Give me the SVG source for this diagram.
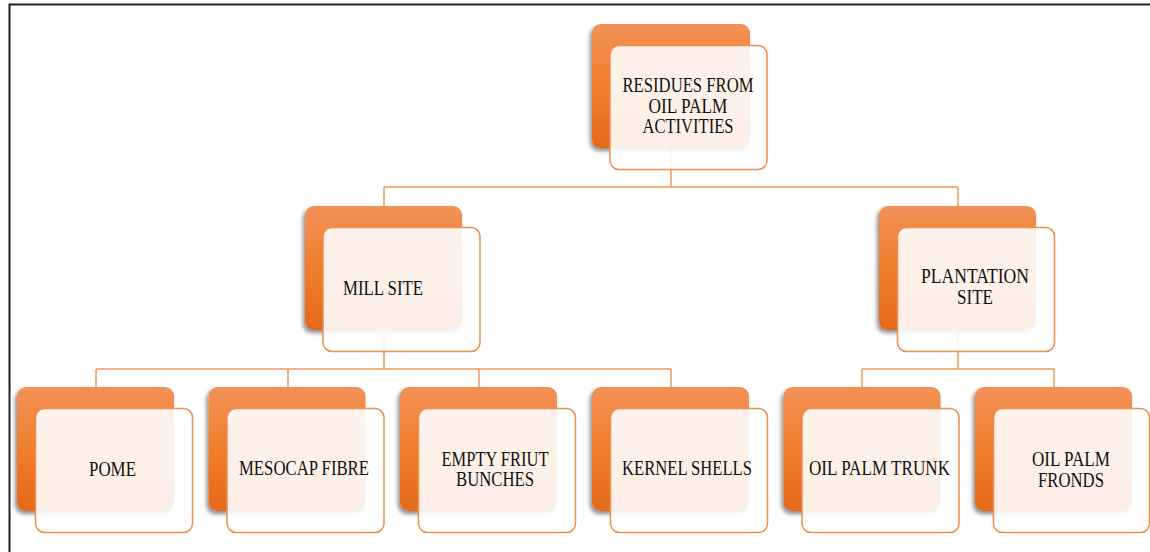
<svg xmlns="http://www.w3.org/2000/svg" width="1150" height="552" viewBox="0 0 1150 552">
<defs>
<linearGradient id="bk" x1="0" y1="0" x2="0" y2="1">
<stop offset="0" stop-color="#F29258"/>
<stop offset="0.5" stop-color="#F07D2B"/>
<stop offset="1" stop-color="#E4691A"/>
</linearGradient>
<filter id="sh" x="-20%" y="-20%" width="140%" height="140%">
<feDropShadow dx="-2" dy="3" stdDeviation="2" flood-color="#000" flood-opacity="0.45"/>
</filter>
</defs>
<style>
.back{fill:url(#bk);filter:url(#sh)}
.front{fill:#fff;fill-opacity:0.89;stroke:#F08E50;stroke-width:1.5}
.con{fill:none;stroke:#F09A60;stroke-width:1.5}
text{font-family:"Liberation Serif","Times New Roman",serif;font-size:20px;fill:#111;text-anchor:middle}
</style>
<rect width="1150" height="552" fill="#fff"/>
<path d="M9.5,552 V4.5 H1150" fill="none" stroke="#222" stroke-width="2"/>
<g id="connectors">
<path class="con" d="M671,148 V187 M384,187 H958 M384,187 V206 M958,187 V206"/>
<path class="con" d="M384,330 V369 M96,369 H671 M96,369 V387 M288,369 V387 M479,369 V387 M671,369 V387"/>
<path class="con" d="M958,330 V369 M862,369 H1054 M862,369 V387 M1054,369 V387"/>
</g>
<g id="residues">
<rect class="back" x="592" y="24" width="158" height="124" rx="9"/>
<rect class="front" x="610" y="45.5" width="157" height="124" rx="9"/>
<text x="688" y="92" textLength="131" lengthAdjust="spacingAndGlyphs">RESIDUES FROM</text>
<text x="688" y="113" textLength="79" lengthAdjust="spacingAndGlyphs">OIL PALM</text>
<text x="688" y="133" textLength="91" lengthAdjust="spacingAndGlyphs">ACTIVITIES</text>
</g>
<g id="mill-site">
<rect class="back" x="305" y="206" width="157" height="124" rx="9"/>
<rect class="front" x="323" y="227.5" width="157" height="124" rx="9"/>
<text x="383" y="295" textLength="80" lengthAdjust="spacingAndGlyphs">MILL SITE</text>
</g>
<g id="plantation-site">
<rect class="back" x="879" y="206" width="157" height="124" rx="9"/>
<rect class="front" x="897.5" y="227.5" width="157" height="124" rx="9"/>
<text x="975" y="283" textLength="108" lengthAdjust="spacingAndGlyphs">PLANTATION</text>
<text x="975" y="304" textLength="36" lengthAdjust="spacingAndGlyphs">SITE</text>
</g>
<g id="pome">
<rect class="back" x="17" y="387" width="157" height="124" rx="9"/>
<rect class="front" x="35.5" y="408.5" width="157" height="124" rx="9"/>
<text x="112.5" y="476" textLength="47" lengthAdjust="spacingAndGlyphs">POME</text>
</g>
<g id="mesocap-fibre">
<rect class="back" x="208.5" y="387" width="157" height="124" rx="9"/>
<rect class="front" x="227" y="408.5" width="157" height="124" rx="9"/>
<text x="304" y="475" textLength="130" lengthAdjust="spacingAndGlyphs">MESOCAP FIBRE</text>
</g>
<g id="empty-fruit-bunches">
<rect class="back" x="400" y="387" width="157" height="124" rx="9"/>
<rect class="front" x="418.5" y="408.5" width="157" height="124" rx="9"/>
<text x="495" y="466" textLength="107" lengthAdjust="spacingAndGlyphs">EMPTY FRIUT</text>
<text x="495" y="486" textLength="78" lengthAdjust="spacingAndGlyphs">BUNCHES</text>
</g>
<g id="kernel-shells">
<rect class="back" x="592" y="387" width="157" height="124" rx="9"/>
<rect class="front" x="610.5" y="408.5" width="157" height="124" rx="9"/>
<text x="687" y="475" textLength="130" lengthAdjust="spacingAndGlyphs">KERNEL SHELLS</text>
</g>
<g id="oil-palm-trunk">
<rect class="back" x="783.5" y="387" width="157" height="124" rx="9"/>
<rect class="front" x="802" y="408.5" width="157" height="124" rx="9"/>
<text x="879.5" y="475" textLength="141" lengthAdjust="spacingAndGlyphs">OIL PALM TRUNK</text>
</g>
<g id="oil-palm-fronds">
<rect class="back" x="975" y="387" width="157" height="124" rx="9"/>
<rect class="front" x="993.5" y="408.5" width="156" height="124" rx="9"/>
<text x="1071" y="466" textLength="78" lengthAdjust="spacingAndGlyphs">OIL PALM</text>
<text x="1071" y="487" textLength="66" lengthAdjust="spacingAndGlyphs">FRONDS</text>
</g>
</svg>
